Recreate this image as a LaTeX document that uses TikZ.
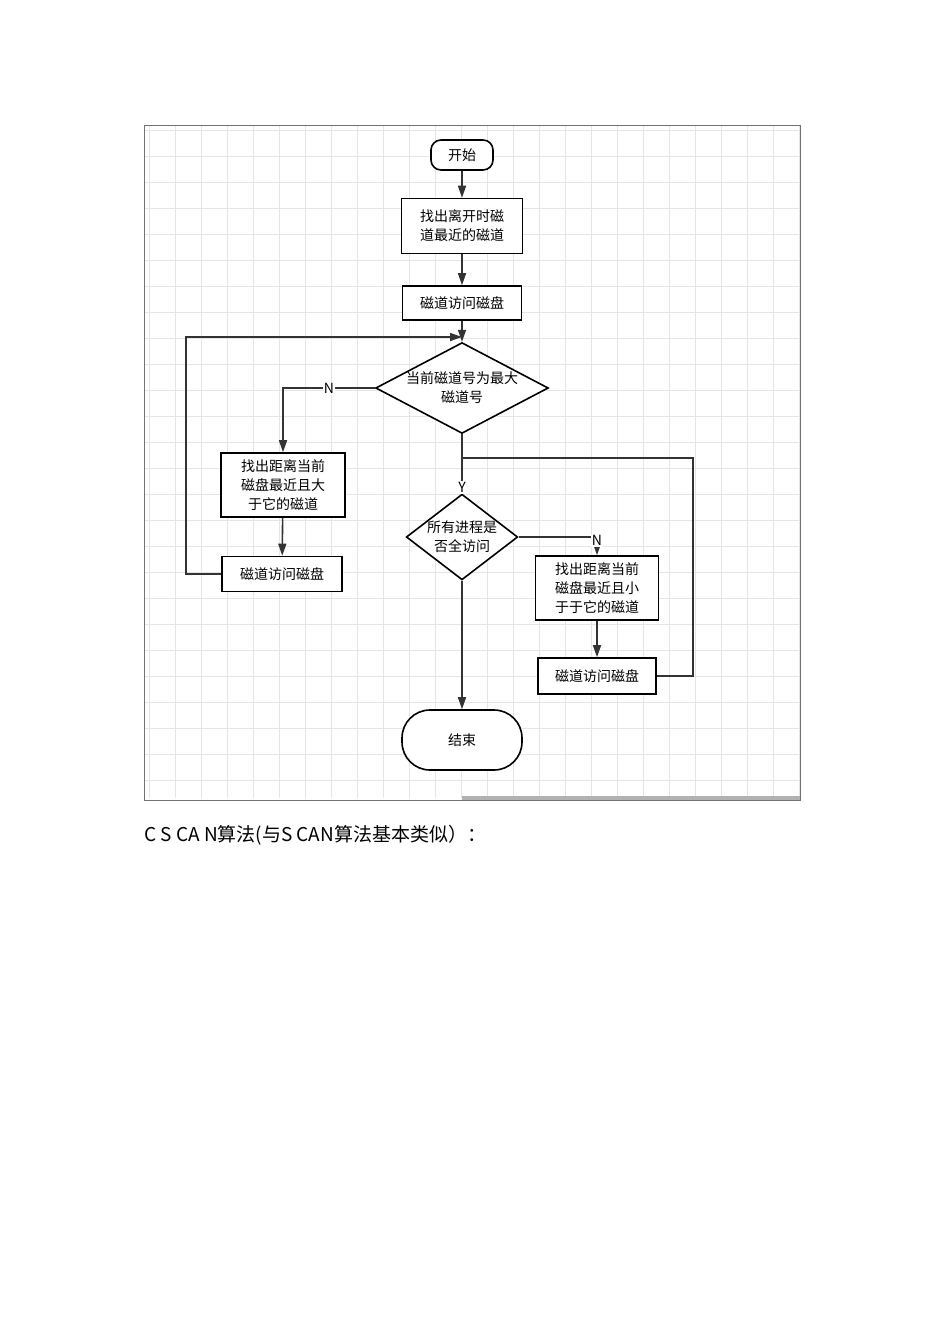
\documentclass[tikz,border=0pt]{standalone}
\usepackage{fontspec}
\setmainfont{Noto Sans CJK SC}
\usetikzlibrary{positioning}
\usetikzlibrary{arrows.meta}
\usetikzlibrary{shapes.geometric}
\usetikzlibrary{calc}
\tikzset{>={Triangle[length=12pt,width=8pt]}}
\tikzset{box/.style={draw,line width=1.6pt,fill=white,align=center,inner sep=0pt,font=\fontsize{14}{19}\selectfont}}
\tikzset{dec/.style={draw,diamond,aspect=1.9,line width=1.6pt,fill=white,align=center,inner sep=0pt,font=\fontsize{14}{19}\selectfont}}
\tikzset{ln/.style={line width=1.6pt,draw=black!80}}
\tikzset{lbl/.style={fill=white,inner sep=1pt,font=\fontsize{14}{16}\selectfont}}

\begin{document}
\begin{tikzpicture}[x=1pt,y=-1pt]
\useasboundingbox (0,0) rectangle (950,1344);
\fill[white] (0,0) rectangle (950,1344);
% grid
\foreach \x in {149,175,...,800} \draw[black!10] (\x,126) -- (\x,798);
\foreach \y in {130,156,...,798} \draw[black!10] (145,\y) -- (799,\y);
\draw[black!55,line width=0.8pt] (144,125) rectangle (800,800);
\fill[black!30] (462,796) rectangle (800,800);

\node[box,rounded corners=10pt,minimum width=62pt,minimum height=30pt] (start) at (462,155) {开始};
\node[box,minimum width=121pt,minimum height=55pt] (near) at (462,226) {找出离开时磁\\道最近的磁道};
\node[box,minimum width=119pt,minimum height=34pt] (visit) at (462,303) {磁道访问磁盘};
\node[dec,minimum width=150pt,minimum height=79pt] (ismax) at (462,388) {当前磁道号为最大\\磁道号};
\node[box,minimum width=124pt,minimum height=64pt] (bigger) at (283,485) {找出距离当前\\磁盘最近且大\\于它的磁道};
\node[box,minimum width=120pt,minimum height=35pt] (visitL) at (282,574) {磁道访问磁盘};
\node[dec,aspect=1.3,minimum width=107pt,minimum height=83pt] (alldone) at (462,537) {所有进程是\\否全访问};
\node[box,minimum width=123pt,minimum height=64pt] (smaller) at (597,588) {找出距离当前\\磁盘最近且小\\于于它的磁道};
\node[box,minimum width=118pt,minimum height=36pt] (visitR) at (597,676) {磁道访问磁盘};
\node[box,rounded corners=28pt,minimum width=120pt,minimum height=60pt] (stop) at (462,740) {结束};
\node[anchor=west,inner sep=0pt,font=\fontsize{19}{22}\selectfont] (caption) at (144,835) {C S CA N算法(与S CAN算法基本类似）：};

\coordinate (topjoin) at (462,337);
\coordinate (yjoin) at (462,458);

\draw[ln,->] (start) -- (near);
\draw[ln,->] (near) -- (visit);
\draw[ln,->] (visit) -- (ismax);
\draw[ln,->] (ismax.west) -| node[lbl,pos=0.25] {N} (bigger.north);
\draw[ln,->] (bigger) -- (visitL);
\draw[ln,->] (visitL.west) -- ++(-35,0) |- (topjoin);
\draw[ln,->] (ismax.south) -- node[lbl,pos=0.9] {Y} (alldone.north);
\draw[ln,->] (alldone.east) -| node[lbl,pos=0.6] {N} (smaller.north);
\draw[ln,->] (smaller) -- (visitR);
\draw[ln] (visitR.east) -- ++(36,0) |- (yjoin);
\draw[ln,->] (alldone.south) -- (stop);
\end{tikzpicture}
\end{document}
